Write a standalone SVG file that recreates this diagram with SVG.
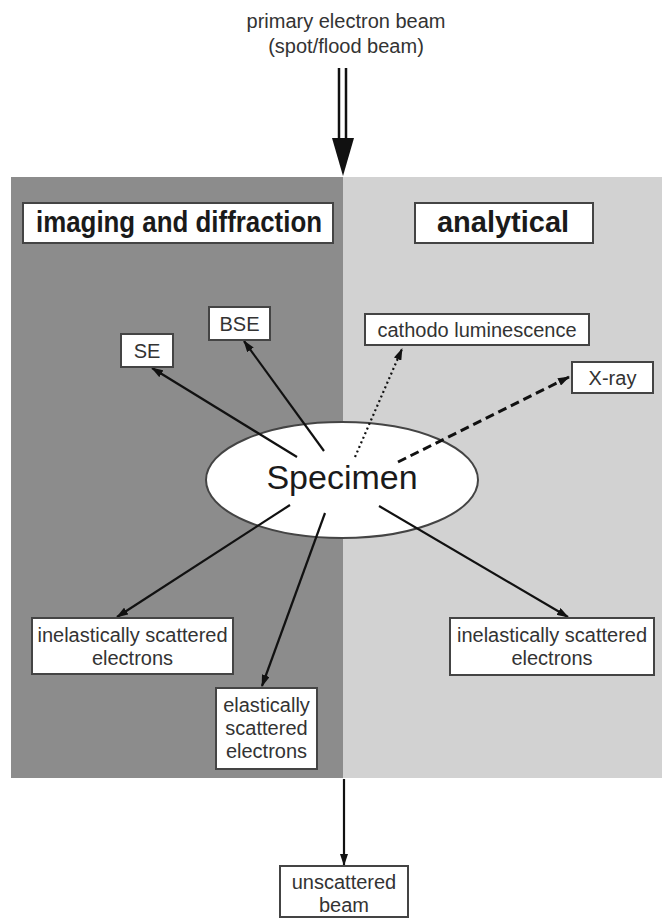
<svg xmlns="http://www.w3.org/2000/svg" width="662" height="918" viewBox="0 0 662 918">
<style>
.t{font-family:"Liberation Sans",Arial,sans-serif;font-size:20px;fill:#333;text-anchor:middle}
.h{font-family:"Liberation Sans",Arial,sans-serif;font-size:29px;font-weight:bold;fill:#1a1a1a;text-anchor:middle}
.box{fill:#fff;stroke:#444;stroke-width:2}
.arr{stroke:#111;stroke-width:2.2;fill:none;marker-end:url(#ah)}
</style>
<defs>
<marker id="ah" viewBox="0 0 12 8" refX="11" refY="4" markerWidth="12" markerHeight="8" markerUnits="userSpaceOnUse" orient="auto">
<path d="M0,0 L12,4 L0,8 z" fill="#111"/>
</marker>
</defs>
<rect width="662" height="918" fill="#fff"/>
<g id="panels">
<rect x="11" y="177" width="332" height="601" fill="#8c8c8c"/>
<rect x="343" y="177" width="319" height="601" fill="#d2d2d2"/>
</g>
<g id="beam">
<text class="t" x="346" y="28">primary electron beam</text>
<text class="t" x="346" y="53">(spot/flood beam)</text>
<line x1="339" y1="68" x2="339" y2="140" stroke="#111" stroke-width="2.5"/>
<line x1="346" y1="68" x2="346" y2="140" stroke="#111" stroke-width="2.5"/>
<polygon points="332,138 354,138 343,176" fill="#111"/>
</g>
<g id="title-imaging">
<rect class="box" x="23" y="203" width="310" height="40"/>
<text class="h" x="179" y="232" textLength="286" lengthAdjust="spacingAndGlyphs">imaging and diffraction</text>
</g>
<g id="title-analytical">
<rect class="box" x="415" y="203" width="178" height="40"/>
<text class="h" x="503" y="232">analytical</text>
</g>
<g id="specimen">
<ellipse cx="342" cy="480" rx="136" ry="58" fill="#fff" stroke="#444" stroke-width="2"/>
<text x="342" y="489" font-family="Liberation Sans, Arial, sans-serif" font-size="34" fill="#1a1a1a" text-anchor="middle">Specimen</text>
</g>
<g id="connectors">
<line class="arr" x1="297" y1="457" x2="152" y2="368"/>
<line class="arr" x1="324" y1="451" x2="244" y2="341"/>
<line x1="355" y1="457" x2="402" y2="349" stroke="#111" stroke-width="2.2" stroke-dasharray="2,3" marker-end="url(#ah)"/>
<line x1="398" y1="462" x2="569" y2="377" stroke="#111" stroke-width="3" stroke-dasharray="9,5" marker-end="url(#ah)"/>
<line class="arr" x1="290" y1="505" x2="117" y2="617"/>
<line class="arr" x1="325" y1="513" x2="262" y2="686"/>
<line class="arr" x1="379" y1="506" x2="568" y2="617"/>
<line class="arr" x1="344" y1="779" x2="344" y2="865"/>
</g>
<g id="SE">
<rect class="box" x="121" y="334" width="52" height="33"/>
<text class="t" x="147" y="358">SE</text>
</g>
<g id="BSE">
<rect class="box" x="209" y="307" width="61" height="33"/>
<text class="t" x="239.5" y="331">BSE</text>
</g>
<g id="cathodo">
<rect class="box" x="365" y="314" width="224" height="31"/>
<text class="t" x="477" y="337">cathodo luminescence</text>
</g>
<g id="xray">
<rect class="box" x="572" y="362" width="81" height="31"/>
<text class="t" x="612.5" y="385">X-ray</text>
</g>
<g id="inelastic-left">
<rect class="box" x="32" y="618" width="201" height="56"/>
<text class="t" x="132.5" y="642">inelastically scattered</text>
<text class="t" x="132.5" y="665">electrons</text>
</g>
<g id="elastic">
<rect class="box" x="216" y="688" width="101" height="81"/>
<text class="t" x="266.5" y="712">elastically</text>
<text class="t" x="266.5" y="735">scattered</text>
<text class="t" x="266.5" y="758">electrons</text>
</g>
<g id="inelastic-right">
<rect class="box" x="450" y="618" width="204" height="57"/>
<text class="t" x="552" y="642">inelastically scattered</text>
<text class="t" x="552" y="665">electrons</text>
</g>
<g id="unscattered">
<rect class="box" x="280" y="866" width="128" height="51"/>
<text class="t" x="344" y="889">unscattered</text>
<text class="t" x="344" y="912">beam</text>
</g>
</svg>
